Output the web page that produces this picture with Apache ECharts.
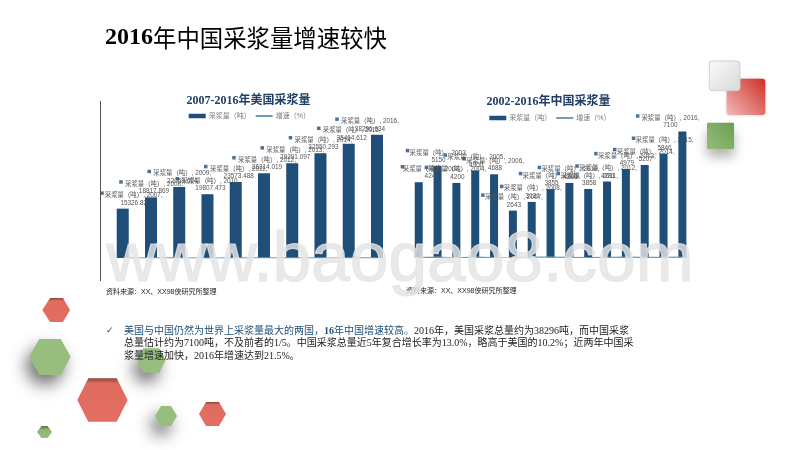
<!DOCTYPE html>
<html>
<head>
<meta charset="utf-8">
<title>2016年中国采浆量增速较快</title>
<style>
html,body{margin:0;padding:0;background:#fff;}
#main{width:800px;height:450px;}
</style>
<script src="https://cdn.jsdelivr.net/npm/echarts@6/dist/echarts.min.js"></script>
</head>
<body>
<div id="main"></div>
<script>
var usYears = ['2007','2008','2009','2010','2011','2012','2013','2014','2015','2016'];
var usVolume = [15326.82,18817.869,22058.694,19807.473,23573.488,26314.019,29391.097,32550.293,35464.612,38296.634];
var usGrowth = [0,22.8,17.2,-10.2,19,11.6,11.7,10.7,9,8];

var cnYears = ['2002','2003','2004','2005','2006','2007','2008','2009','2010','2011','2012','2013','2014','2015','2016'];
var cnVolume = [4240,5150,4200,4900,4688,2643,3131,3855,4200,3858,4281,4979,5207,5846,7100];
var cnGrowth = [0,21,-18,17,-4,-44,18,23,9,-8,11,16,5,12,21.5];

var volumeName = '采浆量（吨）';
var growthName = '增速（%）';

// 标签和小方块相对柱子的偏移
var usLabelDx = [11,3,3,3,3,3,3,3,3,-7];
var usMarkDx = [-20.7,-30,-30,-30,-30,-30,-30,-30,-30,-40];
var cnLabelDx = [13,1,1,1,1,1,1,1,1,1,1,1,1,1,-12];
var cnMarkDx = [-16.3,-30,-30,-30,-30,-30,-30,-30,-30,-30,-30,-30,-30,-30,-44.7];

var barColor = '#1f4e79';
var lineColor = '#6f9db8';
var cjk = '"Liberation Sans","Noto Sans CJK SC",sans-serif';
var cjkSerif = '"Liberation Serif","Noto Sans CJK SC",serif';

function barData(years, values, dx){
    return values.map(function(v,i){
        return {
            value:v,
            label:{
                offset:[dx[i],-2],
                formatter:volumeName+', '+years[i]+',\n'+v
            }
        };
    });
}
function markData(values, dx){
    return values.map(function(v,i){
        return {value:v,symbolOffset:[dx[i],-15.5]};
    });
}
function makeSeries(idx, years, volume, growth, labelDx, markDx, width){
    return [
        {
            name:volumeName,type:'bar',xAxisIndex:idx,yAxisIndex:idx,barWidth:width,
            itemStyle:{color:barColor},
            label:{show:true,position:'top',distance:0,color:'#555',fontSize:6.4,lineHeight:7.5,fontFamily:cjk},
            data:barData(years,volume,labelDx)
        },
        {
            name:growthName,type:'line',xAxisIndex:idx,yAxisIndex:idx,symbol:'none',
            lineStyle:{color:lineColor,width:1.2},itemStyle:{color:lineColor},
            data:growth
        },
        {
            name:'marks',type:'scatter',xAxisIndex:idx,yAxisIndex:idx,symbol:'rect',symbolSize:3.5,
            itemStyle:{color:barColor},silent:true,
            data:markData(volume,markDx)
        }
    ];
}
function makeLegend(left, top){
    return {
        left:left,top:top,padding:0,itemWidth:17,itemHeight:4.5,itemGap:4,
        selectedMode:false,
        textStyle:{color:'#7a7a7a',fontSize:7,fontFamily:cjk,padding:[0,0,0,-2]},
        data:[{name:volumeName,icon:'rect'},{name:growthName,itemStyle:{opacity:0}}]
    };
}
function hexagon(x0,x1,x2,x3,yt,ym,yb,fill,shadow,z){
    return {
        type:'polygon',z:z||1,silent:true,
        shape:{points:[[x0,ym],[x1,yt],[x2,yt],[x3,ym],[x2,yb],[x1,yb]]},
        style:{
            fill:fill,
            shadowColor:shadow?'rgba(0,0,0,0.55)':'transparent',
            shadowBlur:shadow?16:0,
            shadowOffsetX:shadow?-5:0,
            shadowOffsetY:shadow?9:0
        }
    };
}
function redFill(){
    return new echarts.graphic.LinearGradient(0,0,0,1,[
        {offset:0,color:'#8f4138'},{offset:0.12,color:'#e06c60'},{offset:1,color:'#e36d62'}
    ]);
}
function txt(x,y,text,size,fill,extra){
    var style = {text:text,fontSize:size,fontFamily:cjk,fill:fill,verticalAlign:'middle'};
    for(var k in extra){style[k]=extra[k];}
    return {type:'text',x:x,y:y,z:10,silent:true,style:style};
}

var decorations = [
    hexagon(42.3,50,63,70,298,310,322,redFill()),
    hexagon(29.3,39.3,60.7,70.7,339,356.7,375,'#97bd7f',true),
    hexagon(137.3,143.3,159.3,165.7,348.3,360,372.7,'#97bd7f',true),
    hexagon(77.3,88.3,116.7,127.7,378.3,400,421.7,redFill()),
    hexagon(155,161,171,177,406,416,426,'#97bd7f',true),
    hexagon(199,206,219,226,402,414,426,redFill()),
    hexagon(37,41.5,47.5,52,426,432,438,new echarts.graphic.LinearGradient(0,0,0,1,[
        {offset:0,color:'#4f6f3e'},{offset:0.3,color:'#8cb574'},{offset:1,color:'#97bd7f'}
    ])),
    {
        type:'rect',z:1,silent:true,
        shape:{x:726.7,y:78.7,width:38.6,height:36.3,r:3},
        style:{
            fill:new echarts.graphic.LinearGradient(1,0,0,1,[{offset:0,color:'#cf3027'},{offset:1,color:'#f2b9b9'}]),
            shadowColor:'rgba(200,60,60,0.35)',shadowBlur:3
        }
    },
    {
        type:'rect',z:2,silent:true,
        shape:{x:709.3,y:61,width:30.7,height:29.7,r:3},
        style:{
            fill:new echarts.graphic.LinearGradient(1,1,0,0,[{offset:0,color:'#d8d8d8'},{offset:1,color:'#fbfbfb'}]),
            stroke:'#cfcfcf',lineWidth:1
        }
    },
    {
        type:'rect',z:1,silent:true,
        shape:{x:707,y:122.7,width:27,height:26.3,r:1},
        style:{
            fill:new echarts.graphic.LinearGradient(1,0,0,1,[{offset:0,color:'#6c9f50'},{offset:1,color:'#94bd7c'}]),
            shadowColor:'rgba(0,0,0,0.3)',shadowBlur:12,shadowOffsetY:8
        }
    }
];

var texts = [
    {
        type:'text',x:105,y:38,z:10,silent:true,
        style:{
            text:'{a|2016}{b|年中国采浆量增速较快}',verticalAlign:'middle',
            rich:{
                a:{fontFamily:'"Liberation Serif"',fontWeight:'bold',fontSize:24,fill:'#000'},
                b:{fontFamily:'"Noto Sans CJK SC"',fontWeight:400,fontSize:23.4,fill:'#000'}
            }
        }
    },
    txt(248.5,101,'2007-2016年美国采浆量',12,'#1f3f66',{fontFamily:cjkSerif,fontWeight:'bold',align:'center'}),
    txt(548.5,102,'2002-2016年中国采浆量',12,'#1f3f66',{fontFamily:cjkSerif,fontWeight:'bold',align:'center'}),
    txt(106,292.5,'资料来源：XX、XX98侠研究所整理',7,'#222'),
    txt(406,291.5,'资料来源：XX、XX98侠研究所整理',7,'#222'),
    txt(106,331,'✓',9,barColor,{fontFamily:'"DejaVu Sans"'}),
    {
        type:'text',x:124,y:331,z:10,silent:true,
        style:{
            text:'{b|美国与中国仍然为世界上采浆量最大的两国，}{c|16}{b|年中国增速较高。}{n|2016年，美国采浆总量约为38296吨，而中国采浆}',
            verticalAlign:'middle',
            rich:{
                b:{fontFamily:cjkSerif,fontSize:10,fill:barColor},
                c:{fontFamily:cjkSerif,fontSize:10,fill:barColor,fontWeight:'bold'},
                n:{fontFamily:cjkSerif,fontSize:10,fill:'#222'}
            }
        }
    },
    txt(124,343.5,'总量估计约为7100吨，不及前者的1/5。中国采浆总量近5年复合增长率为13.0%，略高于美国的10.2%；近两年中国采',10,'#222',{fontFamily:cjkSerif}),
    txt(124,356,'浆量增速加快，2016年增速达到21.5%。',10,'#222',{fontFamily:cjkSerif}),
    {type:'line',z:10,silent:true,shape:{x1:100.5,y1:101,x2:100.5,y2:281},style:{stroke:'#555',lineWidth:1}},
    // 水印
    {
        type:'text',x:400,y:262,z:50,silent:true,
        style:{
            text:'www.baogao8.com',align:'center',verticalAlign:'middle',
            fontFamily:'"Liberation Sans"',fontSize:69.5,fill:'rgba(228,228,228,0.82)',
            stroke:'rgba(228,228,228,0.82)',lineWidth:1.2
        }
    }
];

var chart = echarts.init(document.getElementById('main'));
chart.setOption({
    animation:false,
    backgroundColor:'#fff',
    legend:[makeLegend(188.7,112.5),makeLegend(489.3,114.5)],
    grid:[
        {left:108.6,width:282.5,top:129.2,height:128.8},
        {left:409.3,width:282.5,top:115.5,height:142}
    ],
    xAxis:[
        {type:'category',gridIndex:0,data:usYears,show:false},
        {type:'category',gridIndex:1,data:cnYears,show:false}
    ],
    yAxis:[
        {type:'value',gridIndex:0,min:0,max:40000,show:false},
        {type:'value',gridIndex:1,min:0,max:8000,show:false}
    ],
    series:makeSeries(0,usYears,usVolume,usGrowth,usLabelDx,usMarkDx,12)
        .concat(makeSeries(1,cnYears,cnVolume,cnGrowth,cnLabelDx,cnMarkDx,8)),
    graphic:{elements:decorations.concat(texts)}
});
</script>
</body>
</html>
